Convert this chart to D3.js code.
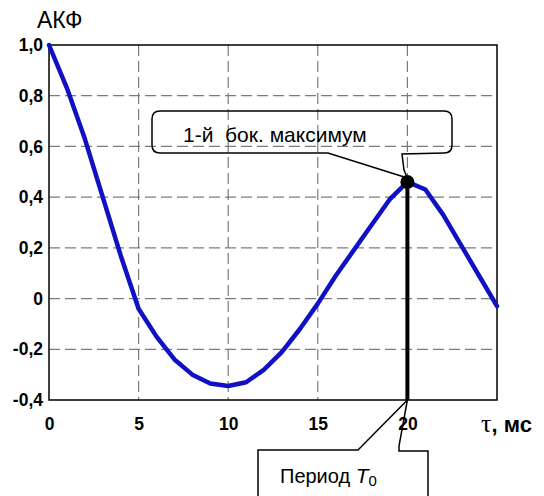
<!DOCTYPE html>
<html>
<head>
<meta charset="utf-8">
<script src="https://cdn.jsdelivr.net/npm/d3@7"></script>
<style>
  body { margin: 0; background: #fff; }
  svg { display: block; }
  text { font-family: Arial, "Liberation Sans", sans-serif; }
</style>
</head>
<body>
<svg id="chart" width="544" height="496"></svg>
<script>
// values
const tau = [0, 1, 2, 3, 4, 5, 6, 7, 8, 9, 10, 11, 12, 13, 14, 15, 16, 17, 18, 19, 20, 21, 22, 23, 24, 25];
const acf = [1.0, 0.83, 0.63, 0.40, 0.17, -0.04, -0.15, -0.24, -0.30, -0.335, -0.345, -0.33, -0.28, -0.21, -0.12, -0.02, 0.09, 0.19, 0.29, 0.39, 0.46, 0.43, 0.33, 0.21, 0.09, -0.03];
const xTicks = [0, 5, 10, 15, 20];
const yTicks = [-0.4, -0.2, 0, 0.2, 0.4, 0.6, 0.8, 1.0];
const peakTau = 20;
const peakValue = 0.46;
const peakLabel = "1-й  бок. максимум";

const svg = d3.select("#chart");
const plotLeft = 49, plotRight = 497, plotTop = 45, plotBottom = 400;

const x = d3.scaleLinear().domain([0, 25]).range([plotLeft, plotRight]);
const y = d3.scaleLinear().domain([-0.4, 1.0]).range([plotBottom, plotTop]);
const fmt = d => d === 0 ? "0" : d.toFixed(1).replace(".", ",");

// dashed grid
svg.append("g").selectAll("line").data(xTicks.filter(d => d > 0)).join("line")
  .attr("x1", d => x(d)).attr("x2", d => x(d))
  .attr("y1", plotTop).attr("y2", plotBottom)
  .attr("stroke", "#7a7a7a").attr("stroke-width", 1.2).attr("stroke-dasharray", "11,5");
svg.append("g").selectAll("line").data(yTicks.filter(d => d > -0.4 && d < 1.0)).join("line")
  .attr("x1", plotLeft).attr("x2", plotRight)
  .attr("y1", d => y(d)).attr("y2", d => y(d))
  .attr("stroke", "#7a7a7a").attr("stroke-width", 1.2).attr("stroke-dasharray", "11,5");

// frame
svg.append("rect")
  .attr("x", plotLeft).attr("y", plotTop)
  .attr("width", plotRight - plotLeft).attr("height", plotBottom - plotTop)
  .attr("fill", "none").attr("stroke", "#000").attr("stroke-width", 1.5);

// tick labels
const yAxis = svg.append("g").attr("transform", `translate(${plotLeft},0)`)
  .call(d3.axisLeft(y).tickValues(yTicks).tickSize(0).tickPadding(6).tickFormat(fmt));
yAxis.select(".domain").remove();
yAxis.selectAll("text").attr("font-size", 17.5).attr("font-weight", "bold")
  .attr("font-family", "Arial, 'Liberation Sans', sans-serif").attr("fill", "#000");

const xAxis = svg.append("g").attr("transform", `translate(0,${plotBottom})`)
  .call(d3.axisBottom(x).tickValues(xTicks).tickSize(0).tickPadding(18).tickFormat(d => d));
xAxis.select(".domain").remove();
xAxis.selectAll("text").attr("font-size", 17.5).attr("font-weight", "bold")
  .attr("font-family", "Arial, 'Liberation Sans', sans-serif").attr("fill", "#000");

// ACF curve
const line = d3.line().x((d, i) => x(tau[i])).y(d => y(d));
svg.append("path").datum(acf)
  .attr("d", line)
  .attr("fill", "none").attr("stroke", "#1010c4").attr("stroke-width", 4.5)
  .attr("stroke-linejoin", "round").attr("stroke-linecap", "round");

// period marker
const px = x(peakTau), py = y(peakValue);
svg.append("line")
  .attr("x1", px).attr("x2", px).attr("y1", py).attr("y2", plotBottom)
  .attr("stroke", "#000").attr("stroke-width", 4);
svg.append("circle").attr("cx", px).attr("cy", py).attr("r", 7).attr("fill", "#000");

// callout: 1st side maximum
svg.append("path")
  .attr("d", `M328,153 L160,153 Q152,153 152,145 L152,119 Q152,111 160,111 L444,111 Q452,111 452,119 L452,145 Q452,153 444,153 L402,154 L404,170 L${px},${py - 4} Z`)
  .attr("fill", "none").attr("stroke", "#000").attr("stroke-width", 1.5);
svg.append("text")
  .attr("x", 183).attr("y", 142)
  .attr("font-size", 21)
  .style("white-space", "pre")
  .text(peakLabel);

// callout: period
svg.append("path")
  .attr("d", `M258,497 L258,450 L358,450 L${px},${plotBottom} L399,446 L399,451 L428,451 L428,497`)
  .attr("fill", "none").attr("stroke", "#000").attr("stroke-width", 1.5);
const pt = svg.append("text").attr("x", 280).attr("y", 483).attr("font-size", 20);
pt.append("tspan").text("Период ");
pt.append("tspan").attr("font-style", "italic").attr("font-size", 21).text("T");
pt.append("tspan").attr("font-size", 15).attr("dy", 3).text("0");

// axis titles
svg.append("text").attr("x", 37).attr("y", 28).attr("font-size", 23).text("АКФ");
const xt = svg.append("text").attr("x", 481).attr("y", 432);
xt.append("tspan").attr("font-family", "'Times New Roman', 'Liberation Serif', serif").attr("font-size", 26).text("τ");
xt.append("tspan").attr("font-size", 22).attr("font-weight", "bold").text(", мс");
</script>
</body>
</html>
